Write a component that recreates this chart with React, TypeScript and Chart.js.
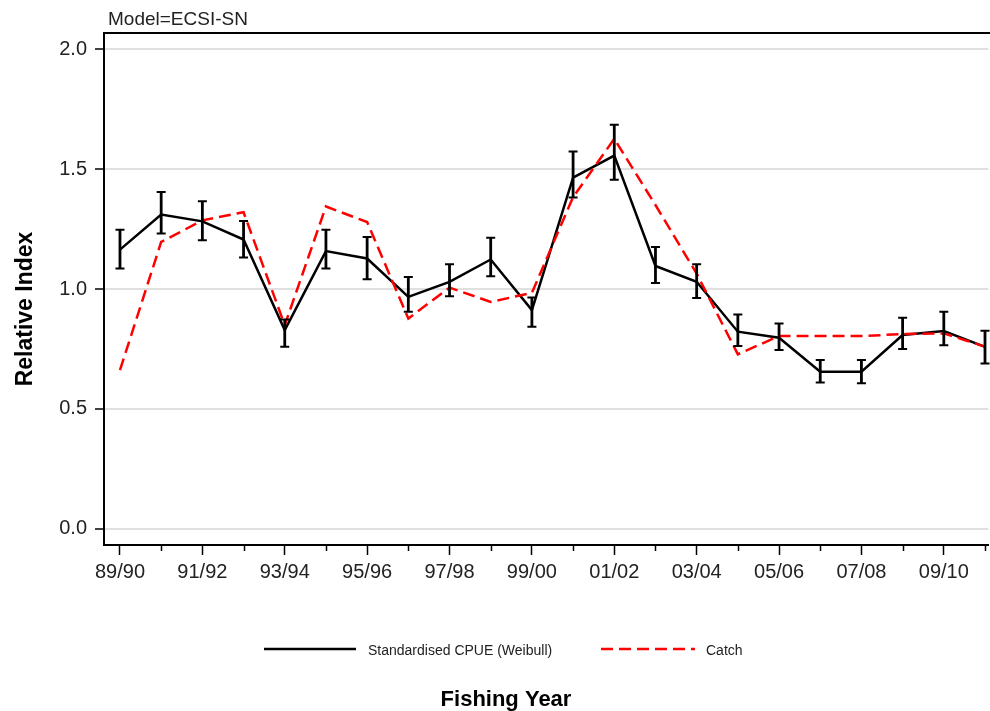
import React, { useEffect, useRef } from "react";
import { Chart, registerables } from "chart.js";

Chart.register(...registerables);

const YEARS = [
  "89/90", "90/91", "91/92", "92/93", "93/94", "94/95", "95/96", "96/97", "97/98", "98/99", "99/00",
  "00/01", "01/02", "02/03", "03/04", "04/05", "05/06", "06/07", "07/08", "08/09", "09/10", "10/11",
];
const CPUE = [1.164, 1.31, 1.282, 1.206, 0.829, 1.158, 1.127, 0.967, 1.03, 1.123, 0.912, 1.464, 1.556, 1.096, 1.03, 0.822, 0.797, 0.655, 0.655, 0.808, 0.825, 0.759];
const CPUE_LOW = [1.085, 1.231, 1.203, 1.131, 0.759, 1.085, 1.041, 0.905, 0.97, 1.053, 0.843, 1.381, 1.455, 1.025, 0.963, 0.762, 0.746, 0.61, 0.607, 0.75, 0.766, 0.69];
const CPUE_HIGH = [1.247, 1.404, 1.366, 1.283, 0.873, 1.247, 1.217, 1.05, 1.103, 1.214, 0.965, 1.573, 1.685, 1.175, 1.103, 0.894, 0.856, 0.704, 0.704, 0.88, 0.905, 0.826];
const CATCH = [0.662, 1.196, 1.286, 1.32, 0.849, 1.344, 1.279, 0.877, 1.006, 0.946, 0.984, 1.383, 1.626, 1.35, 1.064, 0.728, 0.804, 0.804, 0.804, 0.812, 0.815, 0.76];
const Y_TICKS = [0, 0.5, 1.0, 1.5, 2.0];

const TITLE = "Model=ECSI-SN";
const Y_TITLE = "Relative Index";
const X_TITLE = "Fishing Year";
const LEGEND = ["Standardised CPUE (Weibull)", "Catch"];

const FONT = "'Liberation Sans', Arial, sans-serif";

export default function App() {
  const ref = useRef<HTMLCanvasElement | null>(null);

  useEffect(() => {
    const canvas = ref.current;
    if (!canvas) return;

    const extras = {
      id: "extras",
      afterDatasetsDraw(chart: any) {
        const ctx = chart.ctx;
        const xs = chart.scales.x;
        const ys = chart.scales.y;
        ctx.save();
        ctx.strokeStyle = "#000";
        for (let i = 0; i < CPUE.length; i++) {
          const px = xs.getPixelForValue(i);
          const yl = ys.getPixelForValue(CPUE_LOW[i]);
          const yh = ys.getPixelForValue(CPUE_HIGH[i]);
          ctx.lineWidth = 2.8;
          ctx.beginPath();
          ctx.moveTo(px, yl);
          ctx.lineTo(px, yh);
          ctx.stroke();
          ctx.lineWidth = 2;
          ctx.beginPath();
          ctx.moveTo(px - 4.5, yl);
          ctx.lineTo(px + 4.5, yl);
          ctx.moveTo(px - 4.5, yh);
          ctx.lineTo(px + 4.5, yh);
          ctx.stroke();
        }
        ctx.restore();
      },
      afterDraw(chart: any) {
        const ctx = chart.ctx;
        const area = chart.chartArea;
        const xs = chart.scales.x;
        ctx.save();
        // top border
        ctx.strokeStyle = "#000";
        ctx.lineWidth = 2;
        ctx.beginPath();
        ctx.moveTo(area.left - 1, area.top);
        ctx.lineTo(chart.width, area.top);
        ctx.stroke();
        // minor x ticks
        ctx.lineWidth = 1.5;
        for (let i = 1; i < YEARS.length; i += 2) {
          const px = Math.round(xs.getPixelForValue(i)) + 0.5;
          ctx.beginPath();
          ctx.moveTo(px, area.bottom);
          ctx.lineTo(px, area.bottom + 6);
          ctx.stroke();
        }
        // title
        ctx.fillStyle = "#222";
        ctx.font = `19px ${FONT}`;
        ctx.textAlign = "left";
        ctx.textBaseline = "alphabetic";
        ctx.fillText(TITLE, 108, 25);
        // y title
        ctx.save();
        ctx.translate(32, 309);
        ctx.rotate(-Math.PI / 2);
        ctx.font = `bold 23px ${FONT}`;
        ctx.textAlign = "center";
        ctx.fillStyle = "#000";
        ctx.fillText(Y_TITLE, 0, 0);
        ctx.restore();
        // x title
        ctx.font = `bold 22px ${FONT}`;
        ctx.textAlign = "center";
        ctx.fillStyle = "#000";
        ctx.fillText(X_TITLE, 506, 706);
        // legend
        ctx.lineWidth = 2.5;
        ctx.strokeStyle = "#000";
        ctx.setLineDash([]);
        ctx.beginPath();
        ctx.moveTo(264, 649);
        ctx.lineTo(356, 649);
        ctx.stroke();
        ctx.strokeStyle = "#ff0000";
        ctx.setLineDash([12, 6]);
        ctx.beginPath();
        ctx.moveTo(601, 649);
        ctx.lineTo(695, 649);
        ctx.stroke();
        ctx.setLineDash([]);
        ctx.font = `14px ${FONT}`;
        ctx.textAlign = "left";
        ctx.fillStyle = "#222";
        ctx.fillText(LEGEND[0], 368, 655);
        ctx.fillText(LEGEND[1], 706, 655);
        ctx.restore();
      },
    };

    const chart = new Chart(canvas, {
      type: "line",
      data: {
        datasets: [
          {
            label: LEGEND[1],
            data: CATCH.map((v, i) => ({ x: i, y: v })),
            borderColor: "#ff0000",
            borderWidth: 2.5,
            borderDash: [12, 6],
            pointRadius: 0,
            fill: false,
            tension: 0,
          },
          {
            label: LEGEND[0],
            data: CPUE.map((v, i) => ({ x: i, y: v })),
            borderColor: "#000",
            borderWidth: 2.5,
            pointRadius: 0,
            fill: false,
            tension: 0,
          },
        ],
      },
      options: {
        animation: false,
        responsive: false,
        layout: { padding: { left: 0, top: 33, right: 0, bottom: 0 } },
        plugins: {
          legend: { display: false },
          tooltip: { enabled: false },
          title: { display: false },
        },
        scales: {
          x: {
            type: "linear",
            min: -0.388,
            max: 21.083,
            afterBuildTicks: (scale: any) => {
              scale.ticks = YEARS.map((_, i) => ({ value: i }));
            },
            afterFit: (scale: any) => {
              scale.height = 166;
            },
            ticks: {
              autoSkip: false,
              maxRotation: 0,
              padding: 5,
              color: "#222",
              font: { family: FONT, size: 20 },
              callback: (v: any) => {
                const i = Math.round(Number(v));
                return i % 2 === 0 ? YEARS[i] : "";
              },
            },
            grid: {
              drawOnChartArea: false,
              drawTicks: true,
              tickLength: 10,
              tickWidth: 1.5,
              tickColor: (c: any) => (c.index % 2 === 0 ? "#000" : "rgba(0,0,0,0)"),
            },
            border: { display: true, color: "#000", width: 2 },
          },
          y: {
            type: "linear",
            min: -0.067,
            max: 2.067,
            afterBuildTicks: (scale: any) => {
              scale.ticks = Y_TICKS.map((v) => ({ value: v }));
            },
            afterFit: (scale: any) => {
              scale.width = 104;
            },
            ticks: {
              padding: 8,
              color: "#222",
              font: { family: FONT, size: 20 },
              callback: (v: any) => Number(v).toFixed(1),
            },
            grid: {
              color: "#e0e0e0",
              lineWidth: 2,
              drawTicks: true,
              tickLength: 9,
              tickColor: "#000",
              tickWidth: 1.5,
            },
            border: { display: true, color: "#000", width: 2 },
          },
        },
      },
      plugins: [extras],
    });

    return () => chart.destroy();
  }, []);

  return (
    <canvas
      ref={ref}
      width={990}
      height={711}
      style={{ position: "absolute", left: 0, top: 0, width: 990, height: 711, background: "#fff" }}
    />
  );
}
